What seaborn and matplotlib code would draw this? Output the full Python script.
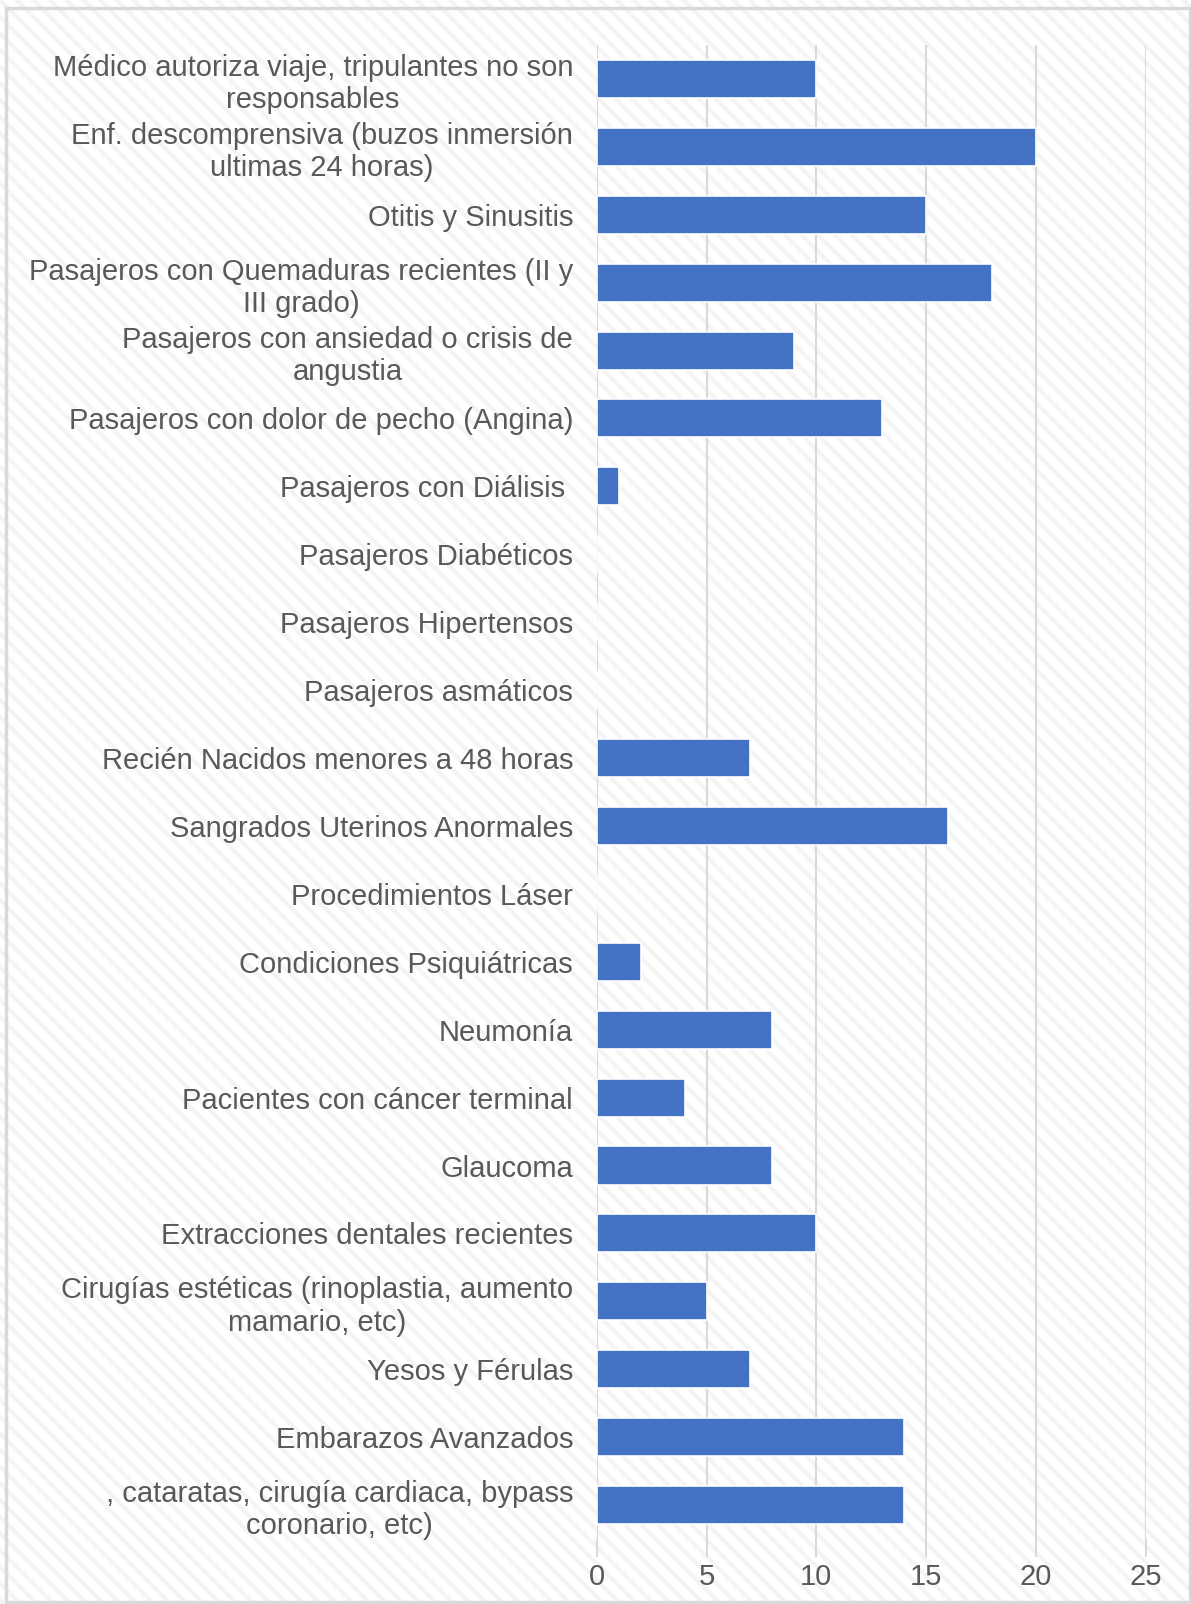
import pandas as pd
import matplotlib
matplotlib.use("Agg")
import matplotlib.pyplot as plt
import matplotlib.patches as mpatches
import seaborn as sns

# -----------------------------
# Data
# -----------------------------
labels = [
    "Médico autoriza viaje, tripulantes no son\nresponsables",
    "Enf. descomprensiva (buzos inmersión\nultimas 24 horas)",
    "Otitis y Sinusitis",
    "Pasajeros con Quemaduras recientes (II y\nIII grado)",
    "Pasajeros con ansiedad o crisis de\nangustia",
    "Pasajeros con dolor de pecho (Angina)",
    "Pasajeros con Diálisis ",
    "Pasajeros Diabéticos",
    "Pasajeros Hipertensos",
    "Pasajeros asmáticos",
    "Recién Nacidos menores a 48 horas",
    "Sangrados Uterinos Anormales",
    "Procedimientos Láser",
    "Condiciones Psiquiátricas",
    "Neumonía",
    "Pacientes con cáncer terminal",
    "Glaucoma",
    "Extracciones dentales recientes",
    "Cirugías estéticas (rinoplastia, aumento\nmamario, etc)",
    "Yesos y Férulas",
    "Embarazos Avanzados",
    ", cataratas, cirugía cardiaca, bypass\ncoronario, etc)",
]
values = [10, 20, 15, 18, 9, 13, 1, 0, 0, 0, 7, 16, 0, 2, 8, 4, 8, 10, 5, 7, 14, 14]
x_ticks = [0, 5, 10, 15, 20, 25]

df = pd.DataFrame({"label": labels, "value": values})

# -----------------------------
# Style
# -----------------------------
plt.rcParams["font.family"] = ["Liberation Sans", "DejaVu Sans"]
plt.rcParams["hatch.linewidth"] = 3.0

text_color = "#595959"
grid_color = "#d9d9d9"

fig = plt.figure(figsize=(11.91, 16.04), dpi=100)

# faint diagonal stripes, then a light border on top
stripes = mpatches.Rectangle(
    (0, 0), 1, 1, transform=fig.transFigure,
    facecolor="white", edgecolor="#f4f4f4", linewidth=0,
    hatch="\\\\", zorder=-11
)
border = mpatches.Rectangle(
    (0.005, 0.001), 0.994, 0.994, transform=fig.transFigure,
    facecolor="none", edgecolor=grid_color, linewidth=2.5, zorder=-10
)
fig.patches.extend([stripes, border])

ax = fig.add_axes([0.501, 0.0405, 0.461, 0.9315])
ax.patch.set_alpha(0)

sns.barplot(
    data=df, x="value", y="label", orient="h",
    color="#4472C4", saturation=1, width=0.56,
    edgecolor="white", linewidth=1.2, ax=ax, zorder=3
)

ax.set_xlim(0, 25)
ax.set_ylim(len(labels) - 0.5, -0.5)
ax.set_xticks(x_ticks)
ax.grid(axis="x", color=grid_color, linewidth=1.5, zorder=0)
ax.set_axisbelow(True)
for s in ax.spines.values():
    s.set_visible(False)

ax.set_xlabel("")
ax.set_ylabel("")
ax.tick_params(axis="y", length=0, pad=17, labelsize=21, labelcolor=text_color)
ax.tick_params(axis="x", length=13, width=1.5, color=grid_color, pad=4,
               labelsize=21, labelcolor=text_color)
for t in ax.get_yticklabels():
    t.set_multialignment("center")

fig.savefig("out.png", dpi=100)
